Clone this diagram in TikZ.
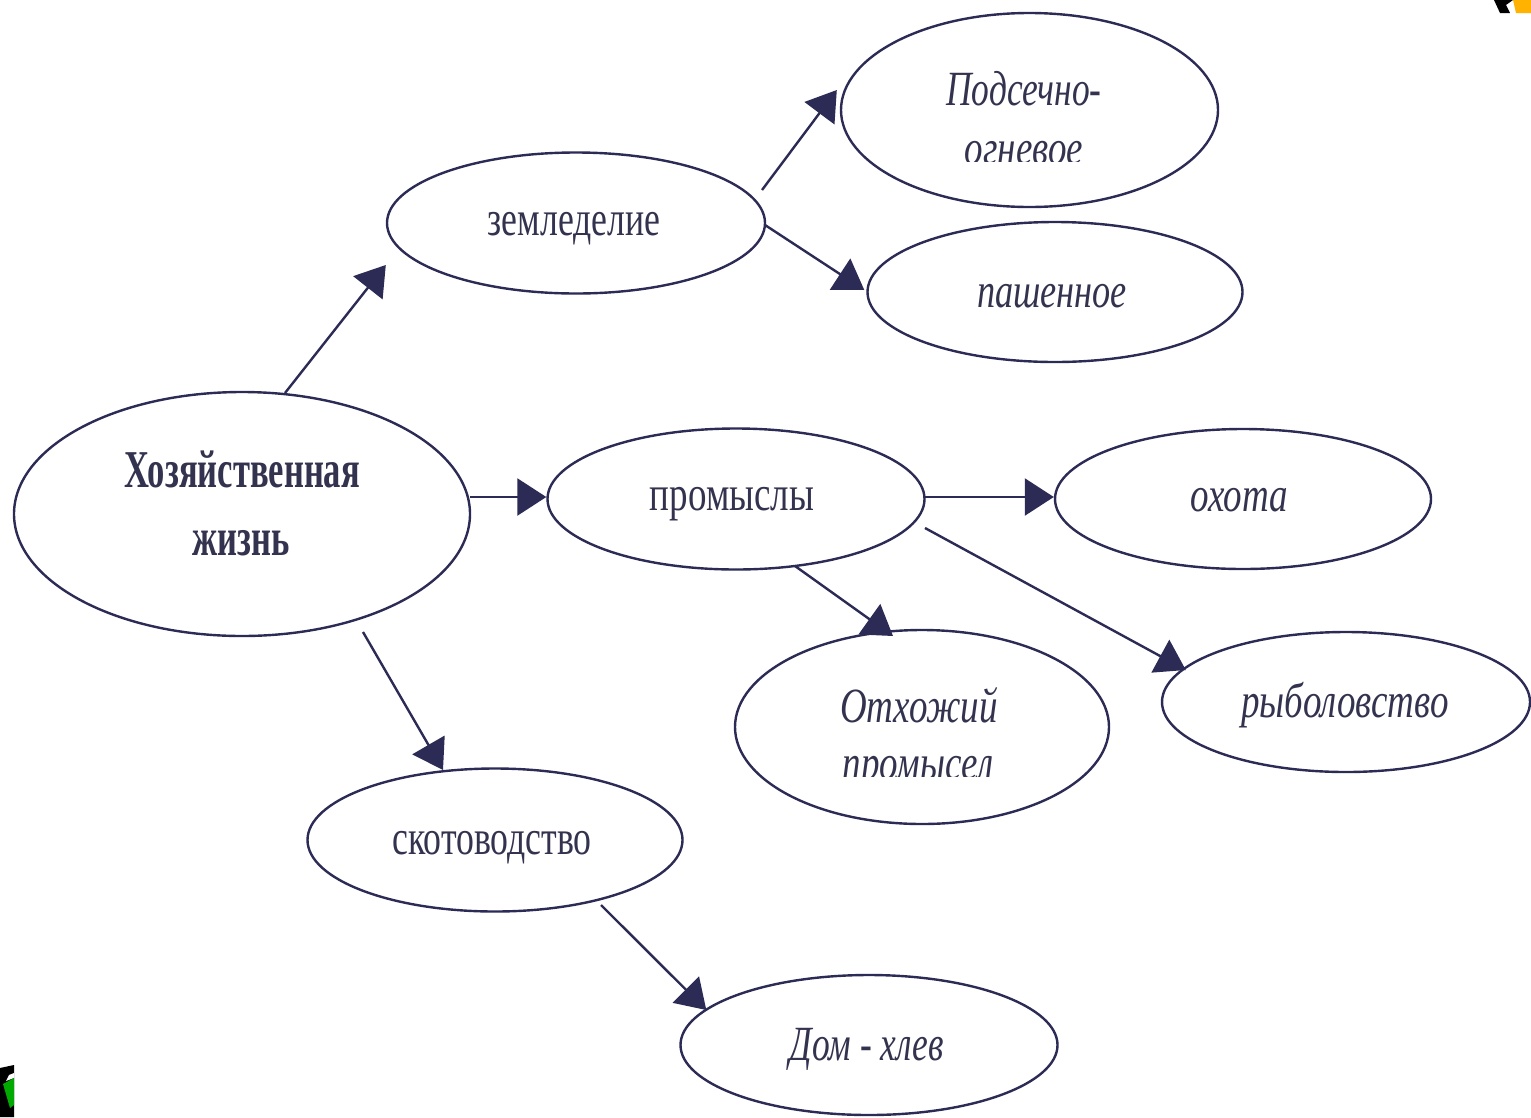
\documentclass[tikz,border=0pt]{standalone}
\usepackage{graphicx}
\usepackage{fontspec}
\setmainfont{Liberation Serif}
\usetikzlibrary{shapes.geometric,arrows.meta}
\definecolor{inkc}{HTML}{2B2B55}
\definecolor{txtc}{HTML}{33334F}
\definecolor{cornery}{HTML}{FFB300}
\definecolor{cornerg}{HTML}{00AA00}
\newcommand{\tallt}[2]{\scalebox{#1}[1.33]{#2}}
\newcommand{\tallb}[2]{\scalebox{#1}[1.4]{#2}}
\tikzset{
  x=1pt,y=-1pt,
  oval/.style={ellipse,draw=inkc,line width=2.4pt,inner sep=0pt},
  lab/.style={inner sep=0pt,text=txtc,anchor=base,font=\fontsize{37}{40}\selectfont},
  labi/.style={lab,font=\fontsize{37}{40}\selectfont\itshape},
  labb/.style={lab,font=\fontsize{38}{40}\selectfont\bfseries},
  link/.style={draw=inkc,line width=2.4pt,-{Triangle[length=29pt,width=37pt]}},
}
\begin{document}
\begin{tikzpicture}
\useasboundingbox (0,0) rectangle (1531,1117);
\fill[white] (0,0) rectangle (1531,1117);
% corner fragments
\fill[black] (1494,0)--(1513,0)--(1506,5)--(1510,13)--(1500,13)--cycle;
\fill[cornery] (1513,0)--(1531,0)--(1531,13)--(1516,13)--cycle;
\fill[black] (0,1068)--(14,1065)--(14,1117)--(0,1117)--cycle;
\fill[white] (6,1081)--(9,1075)--(14,1073)--(14,1078)--cycle;
\fill[cornerg] (3,1084)--(14,1078)--(14,1105)--(10,1108)--cycle;
% ovals
\node[oval,minimum width=456pt,minimum height=244pt] (hoz) at (242,514) {};
\node[oval,minimum width=378pt,minimum height=141pt] (zem) at (576,223) {};
\node[oval,minimum width=377pt,minimum height=194pt] (pod) at (1029.5,110) {};
\node[oval,minimum width=375pt,minimum height=140pt] (pas) at (1055,292) {};
\node[oval,minimum width=377pt,minimum height=141pt] (pro) at (736,499) {};
\node[oval,minimum width=376pt,minimum height=140pt] (oho) at (1243,499) {};
\node[oval,minimum width=374pt,minimum height=194pt] (otx) at (922,727) {};
\node[oval,minimum width=368pt,minimum height=140pt] (ryb) at (1346,702) {};
\node[oval,minimum width=375pt,minimum height=143pt] (sko) at (495,840) {};
\node[oval,minimum width=377pt,minimum height=140pt] (dom) at (869,1045) {};
% labels
\node[labb] (t1) at (242,487) {\tallb{0.91}{Хозяйственная}};
\node[labb] (t2) at (241,555) {\tallb{0.91}{жизнь}};
\node[lab] (t3) at (574,235) {\tallt{0.966}{земледелие}};
\node[labi] (t4) at (1024,105) {\tallt{0.957}{Подсечно-}};
\begin{scope}
\clip (940,140) rectangle (1110,161);
\node[labi] (t5) at (1024,164) {\tallt{1}{огневое}};
\end{scope}
\node[labi] (t6) at (1052,307) {\tallt{0.98}{пашенное}};
\node[lab] (t7) at (732,510) {\tallt{1}{промыслы}};
\node[labi] (t8) at (1239,511) {\tallt{1}{охота}};
\node[labi] (t9) at (919,722) {\tallt{1}{Отхожий}};
\begin{scope}
\clip (820,755) rectangle (1020,776);
\node[labi] (t10) at (918,779) {\tallt{1}{промысел}};
\end{scope}
\node[labi] (t11) at (1345,717) {\tallt{1}{рыболовство}};
\node[lab] (t12) at (492,854) {\tallt{0.966}{скотоводство}};
\node[labi] (t13) at (867,1060) {\tallt{0.957}{Дом - хлев}};
% connectors
\draw[link] ([shift={(43,-121)}]hoz.center) -- ([shift={(0,42)}]zem.west);
\draw[link] ([shift={(186,-33)}]zem.center) -- ([shift={(-3,-20)}]pod.west);
\draw[link] ([shift={(189,2)}]zem.center) -- ([shift={(-2,-2)}]pas.west);
\draw[link] ([shift={(228,-17)}]hoz.center) -- ([shift={(0,-2)}]pro.west);
\draw[link] ([shift={(189,-2)}]pro.center) -- ([shift={(0,-2)}]oho.west);
\draw[link] ([shift={(59,67)}]pro.center) -- ([shift={(-29,-91)}]otx.center);
\draw[link] ([shift={(189,29)}]pro.center) -- ([shift={(25,-32)}]ryb.west);
\draw[link] ([shift={(121,118)}]hoz.center) -- ([shift={(-52,-70)}]sko.center);
\draw[link] ([shift={(106,65)}]sko.center) -- ([shift={(27,-35)}]dom.west);
\end{tikzpicture}
\end{document}
